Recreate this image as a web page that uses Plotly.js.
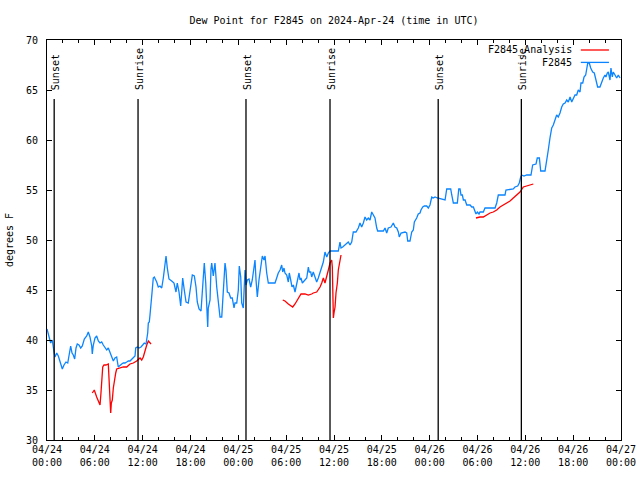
<!DOCTYPE html>
<html>
<head>
<meta charset="utf-8">
<script src="https://cdn.plot.ly/plotly-3.0.1.min.js"></script>
<style>html,body{margin:0;padding:0;background:#fff;}#chart{width:640px;height:480px;}</style>
</head>
<body>
<div id="chart"></div>
<script>
// Hours since 2024-04-24 00:00 UTC
const hoursF2845 = [
  0, 0.25, 0.46, 0.66, 0.79, 0.88, 1.0, 1.22, 1.42, 1.63,
  1.92, 2.13, 2.38, 2.6, 2.8, 2.97, 3.14, 3.3, 3.47, 3.64,
  3.8, 4.01, 4.23, 4.43, 4.68, 4.98, 5.18, 5.39, 5.61, 5.68,
  5.81, 6.02, 6.23, 6.44, 6.65, 6.86, 7.06, 7.28, 7.49, 7.69,
  7.9, 8.12, 8.32, 8.53, 8.74, 8.94, 9.16, 9.37, 9.57, 9.78,
  10.0, 10.2, 10.41, 10.62, 10.83, 11.04, 11.13, 11.33, 11.54, 11.79,
  12.0, 12.2, 12.42, 12.63, 12.71, 12.83, 12.92, 13.05, 13.17, 13.33,
  13.46, 13.76, 13.96, 14.17, 14.39, 14.59, 14.8, 14.93, 15.09, 15.3,
  15.64, 15.93, 16.18, 16.34, 16.56, 16.77, 16.89, 17.02, 17.22, 17.44,
  17.72, 18.03, 18.23, 18.48, 18.69, 18.85, 19.07, 19.32, 19.48, 19.61,
  19.73, 19.91, 20.03, 20.16, 20.23, 20.45, 20.57, 20.66, 20.86, 21.07,
  21.29, 21.49, 21.7, 21.92, 22.04, 22.2, 22.33, 22.45, 22.62, 22.83,
  23.04, 23.24, 23.46, 23.58, 23.8, 24.0, 24.12, 24.3, 24.42, 24.62,
  24.84, 24.96, 25.13, 25.34, 25.55, 25.75, 25.97, 26.09, 26.22, 26.38,
  26.59, 26.81, 27.01, 27.22, 27.35, 27.56, 27.76, 27.97, 28.6, 28.81,
  29.01, 29.23, 29.44, 29.57, 29.73, 29.85, 30.07, 30.27, 30.39, 30.57,
  30.73, 30.9, 31.11, 31.24, 31.4, 31.61, 31.74, 31.86, 32.03, 32.15,
  32.36, 32.58, 32.78, 32.9, 33.08, 33.2, 33.4, 33.62, 33.83, 34.03,
  34.25, 34.46, 34.66, 34.87, 35.09, 35.29, 35.5, 36.13, 36.54, 36.75,
  36.88, 37.09, 37.38, 37.59, 37.79, 38.01, 38.22, 38.42, 38.76, 39.05,
  39.26, 39.47, 39.68, 39.89, 40.1, 40.3, 40.52, 40.73, 40.93, 41.14,
  41.36, 41.48, 42.19, 42.4, 42.61, 42.81, 43.15, 43.44, 43.65, 43.87,
  44.07, 44.19, 44.41, 44.91, 45.12, 45.25, 45.53, 45.75, 45.95, 46.08,
  46.37, 46.57, 46.79, 46.91, 47.13, 47.33, 47.63, 47.83, 48.04, 48.26,
  48.46, 48.67, 48.96, 49.51, 49.93, 50.14, 50.64, 50.77, 50.97, 51.47,
  51.65, 51.81, 51.93, 52.1, 52.23, 52.44, 52.65, 53.07, 53.28, 53.48,
  53.69, 53.81, 53.98, 54.19, 54.31, 54.73, 54.94, 56.2, 56.41, 56.61,
  57.45, 57.57, 58.49, 58.7, 59.04, 59.24, 59.42, 59.54, 59.83, 60.17,
  60.71, 60.92, 61.34, 61.5, 61.76, 61.93, 62.47, 62.68, 62.88, 63.09,
  63.31, 63.51, 63.72, 63.93, 64.13, 64.35, 64.56, 64.76, 64.98, 65.19,
  65.39, 65.61, 65.82, 66.02, 66.23, 66.44, 66.64, 66.86, 66.98, 67.2,
  67.36, 67.57, 67.7, 67.83, 68.02, 68.2, 68.45, 68.65, 68.86, 69.07,
  69.36, 69.57, 69.78, 69.99, 70.11, 70.28, 70.41, 70.62, 70.74, 70.91,
  71.03, 71.25, 71.46, 71.66, 71.88
];
const dewF2845 = [
  41.1, 40.3, 39.7, 40.0, 39.5, 38.8, 38.3, 38.7, 38.4, 37.8,
  37.1, 37.5, 37.8, 37.7, 38.7, 39.4, 38.7, 38.5, 38.1, 39.2,
  39.6, 39.5, 39.2, 39.4, 40.1, 40.4, 40.8, 40.3, 39.4, 38.6,
  39.5, 40.2, 40.4, 39.9, 39.7, 39.8, 39.5, 39.3, 39.0, 39.2,
  38.7, 38.2, 37.9, 38.2, 38.3, 37.3, 37.5, 37.6, 37.7, 37.7,
  37.8, 37.9, 37.9, 38.1, 38.2, 38.4, 39.2, 39.3, 39.2, 39.3,
  39.5, 39.7, 39.6, 40.7, 41.7, 41.8, 42.5, 43.4, 44.7, 46.2,
  46.3, 45.8, 45.3, 45.4, 45.2, 46.2, 47.5, 48.4, 47.2, 46.1,
  45.9, 45.7, 44.8, 45.7, 44.8, 43.4, 44.7, 46.2, 45.0, 43.8,
  43.7, 45.7, 46.5, 46.4, 45.3, 43.8, 43.1, 42.9, 44.7, 47.1,
  47.7, 45.7, 44.0, 41.3, 43.2, 44.0, 47.1, 47.7, 46.4, 47.7,
  45.3, 43.8, 42.3, 42.3, 44.0, 46.7, 47.7, 47.0, 44.8, 44.7,
  44.2, 44.2, 43.2, 43.7, 43.7, 45.0, 47.4, 46.3, 43.7, 43.2,
  47.0, 45.5, 46.0, 46.1, 45.3, 46.0, 47.7, 48.0, 46.0, 44.3,
  46.0, 47.3, 48.4, 48.0, 48.4, 46.7, 45.7, 45.7, 45.7, 46.2,
  46.7, 47.0, 47.5, 46.8, 47.2, 46.7, 46.5, 45.8, 46.7, 46.0,
  45.3, 45.5, 44.8, 45.3, 46.0, 46.7, 46.0, 46.2, 45.7, 45.8,
  46.0, 46.2, 47.3, 46.8, 46.8, 46.3, 46.8, 46.3, 45.8, 46.2,
  46.7, 47.3, 47.8, 48.8, 48.3, 48.7, 48.9, 48.9, 48.9, 49.8,
  49.2, 49.3, 49.5, 49.7, 49.8, 49.5, 49.8, 50.8, 50.8, 51.2,
  51.7, 51.3, 51.7, 52.3, 52.0, 52.2, 52.0, 52.8, 52.5, 52.2,
  51.2, 50.9, 50.9, 51.2, 50.7, 51.2, 51.3, 51.7, 51.3, 51.2,
  50.8, 50.3, 50.7, 50.8, 50.7, 49.9, 49.9, 50.8, 51.0, 51.8,
  52.2, 52.6, 52.7, 53.0, 53.3, 53.4, 53.4, 53.2, 53.5, 54.3,
  54.2, 54.3, 54.2, 54.1, 54.0, 55.1, 55.1, 54.5, 53.7, 53.7,
  55.1, 55.1, 54.5, 54.5, 54.0, 54.0, 53.5, 53.5, 53.3, 53.3,
  52.8, 52.6, 52.8, 52.6, 52.8, 52.8, 53.2, 53.2, 53.7, 54.5,
  54.5, 55.0, 55.1, 55.3, 55.4, 55.7, 56.3, 56.5, 56.4, 56.5,
  56.5, 57.5, 57.6, 58.2, 58.2, 56.9, 56.9, 57.8, 59.0, 60.2,
  61.2, 61.5, 62.0, 62.5, 62.3, 62.7, 63.3, 63.6, 63.7, 64.0,
  63.8, 64.3, 63.8, 64.2, 64.5, 64.5, 65.0, 64.8, 65.7, 65.7,
  66.3, 66.5, 67.0, 67.7, 67.7, 67.2, 66.8, 66.7, 66.0, 65.3,
  65.3, 65.8, 66.2, 66.5, 66.3, 66.7, 66.8, 66.0, 67.2, 66.3,
  66.8, 66.5, 66.2, 66.5, 66.2
];
const hoursAnalysis = [
  5.68, 5.93, 6.23, 6.44, 6.65, 6.77, 6.9, 6.99, 7.15, 7.4,
  7.69, 7.78, 7.9, 7.99, 8.07, 8.19, 8.32, 8.44, 8.62, 8.74,
  9.16, 9.57, 10.0, 10.41, 10.83, 11.25, 11.67, 11.88, 12.08, 12.29,
  12.51, 12.71, 12.92, 13.05, 21.0,
  29.57, 29.85, 30.27, 30.82, 31.11, 31.52, 31.86, 32.36, 32.78, 33.2,
  33.4, 33.83, 34.03, 34.25, 34.46, 34.66, 34.87, 35.09, 35.29, 35.5,
  35.71, 35.79, 35.84, 35.92, 36.0, 36.13, 36.25, 36.42, 36.54, 36.67,
  36.88, 45.0, 53.81, 54.31, 54.73, 55.15, 55.57, 55.98, 56.41, 56.82,
  57.24, 57.66, 58.08, 58.49, 58.92, 59.33, 59.75, 60.17, 60.59, 61.0
];
const dewAnalysis = [
  34.7, 35.0, 34.3, 33.9, 33.5, 34.7, 36.3, 37.3, 37.5, 37.5,
  37.6, 36.3, 33.8, 32.7, 33.7, 34.0, 35.2, 36.0, 36.7, 37.1,
  37.2, 37.3, 37.3, 37.6, 37.7, 37.9, 38.2, 38.0, 38.3, 39.0,
  39.5, 39.9, 39.7, 39.6, null,
  44.0, 43.9, 43.6, 43.3, 43.6, 44.2, 44.6, 44.6, 44.5, 44.6,
  44.7, 44.8, 45.0, 45.3, 45.7, 46.2, 45.7, 46.3, 47.0, 47.7,
  48.0, 47.3, 44.3, 42.2, 42.7, 43.3, 44.7, 45.7, 47.0, 47.7,
  48.5, null, 52.2, 52.3, 52.3, 52.5, 52.7, 52.8, 53.0, 53.3,
  53.5, 53.7, 53.9, 54.2, 54.5, 54.8, 55.3, 55.4, 55.5, 55.6
];
const sunHours = [0.9, 11.42, 24.96, 35.5, 49.07, 59.5];
const sunLabels = ["Sunset", "Sunrise", "Sunset", "Sunrise", "Sunset", "Sunrise"];
const tickHours = [0, 6, 12, 18, 24, 30, 36, 42, 48, 54, 60, 66, 72];
const tickLabels = ["04/24<br>00:00", "04/24<br>06:00", "04/24<br>12:00", "04/24<br>18:00",
  "04/25<br>00:00", "04/25<br>06:00", "04/25<br>12:00", "04/25<br>18:00",
  "04/26<br>00:00", "04/26<br>06:00", "04/26<br>12:00", "04/26<br>18:00", "04/27<br>00:00"];
const seriesNames = ["F2845_Analysis", "F2845"];
const seriesColors = ["#ff0000", "#0a84ff"];

const FONT = {family: "DejaVu Sans Mono, Liberation Mono, monospace", size: 10, color: "#000"};

const traces = [
  {x: hoursAnalysis, y: dewAnalysis, type: "scatter", mode: "lines", name: seriesNames[0],
   line: {color: seriesColors[0], width: 1.3}, connectgaps: false, showlegend: false, hoverinfo: "skip"},
  {x: hoursF2845, y: dewF2845, type: "scatter", mode: "lines", name: seriesNames[1],
   line: {color: seriesColors[1], width: 1.3}, showlegend: false, hoverinfo: "skip"}
];

const shapes = sunHours.map(h => ({
  type: "line", xref: "x", yref: "y", x0: h, x1: h, y0: 30, y1: 64.1,
  line: {color: "#000", width: 1.3}
}));
const annotations = sunHours.map((h, i) => ({
  x: h, y: 64.8, xref: "x", yref: "y", text: sunLabels[i], textangle: -90,
  showarrow: false, xanchor: "center", yanchor: "bottom", xshift: 1, font: FONT
}));
// custom legend: text on left, line sample on right (gnuplot style)
const legendY = [0.975, 0.944];
seriesNames.forEach((n, i) => {
  annotations.push({x: 0.918, y: legendY[i], xref: "paper", yref: "paper", text: n,
    showarrow: false, xanchor: "right", yanchor: "middle", font: FONT});
  shapes.push({type: "line", xref: "paper", yref: "paper", x0: 0.930, x1: 0.979,
    y0: legendY[i], y1: legendY[i], line: {color: seriesColors[i], width: 1.3}});
});

const layout = {
  width: 640, height: 480,
  margin: {l: 47, r: 19, t: 40, b: 40, pad: 0},
  paper_bgcolor: "#fff", plot_bgcolor: "#fff",
  font: FONT,
  showlegend: false,
  title: {text: "Dew Point for F2845 on 2024-Apr-24 (time in UTC)", font: FONT,
          x: 0.5, xref: "paper", y: 0.958, yref: "container", yanchor: "middle"},
  xaxis: {
    range: [0, 72], tickmode: "array", tickvals: tickHours, ticktext: tickLabels,
    ticks: "inside", ticklen: 5, tickcolor: "#000", tickwidth: 1,
    minor: {tickmode: "linear", tick0: 0, dtick: 2, ticks: "inside", ticklen: 3, tickcolor: "#000", showgrid: false},
    showline: true, linecolor: "#000", linewidth: 1, mirror: "ticks",
    showgrid: false, zeroline: false, tickfont: FONT, fixedrange: true
  },
  yaxis: {
    range: [30, 70], dtick: 5, tick0: 30,
    ticks: "inside", ticklen: 5, tickcolor: "#000", tickwidth: 1,
    showline: true, linecolor: "#000", linewidth: 1, mirror: "ticks",
    showgrid: false, zeroline: false, tickfont: FONT, ticklabelstandoff: 6,
    title: {text: "degrees F", font: FONT, standoff: 10}, fixedrange: true
  },
  shapes: shapes,
  annotations: annotations
};

Plotly.newPlot("chart", traces, layout, {staticPlot: true, displayModeBar: false});
</script>
</body>
</html>
